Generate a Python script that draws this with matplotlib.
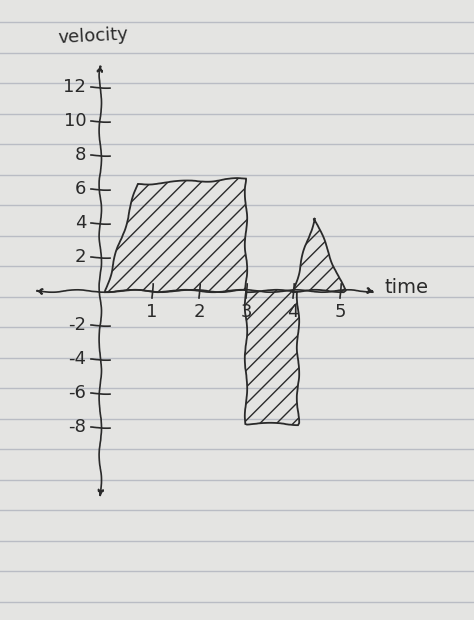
import numpy as np
import matplotlib.pyplot as plt
from matplotlib.lines import Line2D

# hand-drawn velocity-time sketch
pos_t = [0, 0.7, 3.0, 3.0]
pos_v = [0, 6.3, 6.6, 0]
neg_t = [3.0, 3.0, 4.1, 4.1]
neg_v = [0, -7.8, -7.8, 0]
tri_t = [4.0, 4.45, 5.1]
tri_v = [0, 4.3, 0]
y_ticks = [12, 10, 8, 6, 4, 2, -2, -4, -6, -8]
x_ticks = [1, 2, 3, 4, 5]

W, H = 474, 620
fig = plt.figure(figsize=(W / 100, H / 100), dpi=100)
fig.patch.set_facecolor('#e4e4e2')

# ruled paper lines
for yp in np.arange(22, H, 30.5):
    fig.add_artist(Line2D([0, 1], [1 - yp / H, 1 - yp / H], transform=fig.transFigure,
                          color='#b9bcc4', lw=1.0, zorder=0))

ax = fig.add_axes([0, 0, 1, 1])
ax.patch.set_alpha(0)
ax.set_xlim(-105 / 47, (W - 105) / 47)
ax.set_ylim(-(H - 291) / 17, 291 / 17)
ax.axis('off')

ink = '#2a2a2a'
with plt.rc_context({'path.sketch': (1.2, 60, 2)}):
    ax.fill(pos_t, pos_v, facecolor='none', edgecolor=ink, hatch='//', lw=1.3)
    ax.fill(neg_t, neg_v, facecolor='none', edgecolor=ink, hatch='//', lw=1.3)
    ax.fill(tri_t, tri_v, facecolor='none', edgecolor=ink, hatch='//', lw=1.3)

    # axes with arrows
    ax.annotate('', xy=(5.8, 0), xytext=(-1.55, 0),
                arrowprops=dict(arrowstyle='<|-|>', color=ink, lw=1.2, fill=False))
    ax.annotate('', xy=(-0.1, 13.5), xytext=(-0.1, -12.3),
                arrowprops=dict(arrowstyle='<|-|>', color=ink, lw=1.2, fill=False))

    for v in y_ticks:
        ax.plot([-0.3, 0.1], [v, v], color=ink, lw=1.2)
        ax.text(-0.4, v, str(v), ha='right', va='center', fontsize=13, color=ink)
    for t in x_ticks:
        ax.plot([t, t], [-0.4, 0.4], color=ink, lw=1.2)
        ax.text(t, -0.7, str(t), ha='center', va='top', fontsize=13, color=ink)

ax.text(-1.0, 14.6, 'velocity', fontsize=13, color=ink, rotation=3)
ax.text(5.95, 0.2, 'time', fontsize=14, color=ink, va='center')

fig.savefig('out.png', dpi=100, facecolor=fig.get_facecolor())
